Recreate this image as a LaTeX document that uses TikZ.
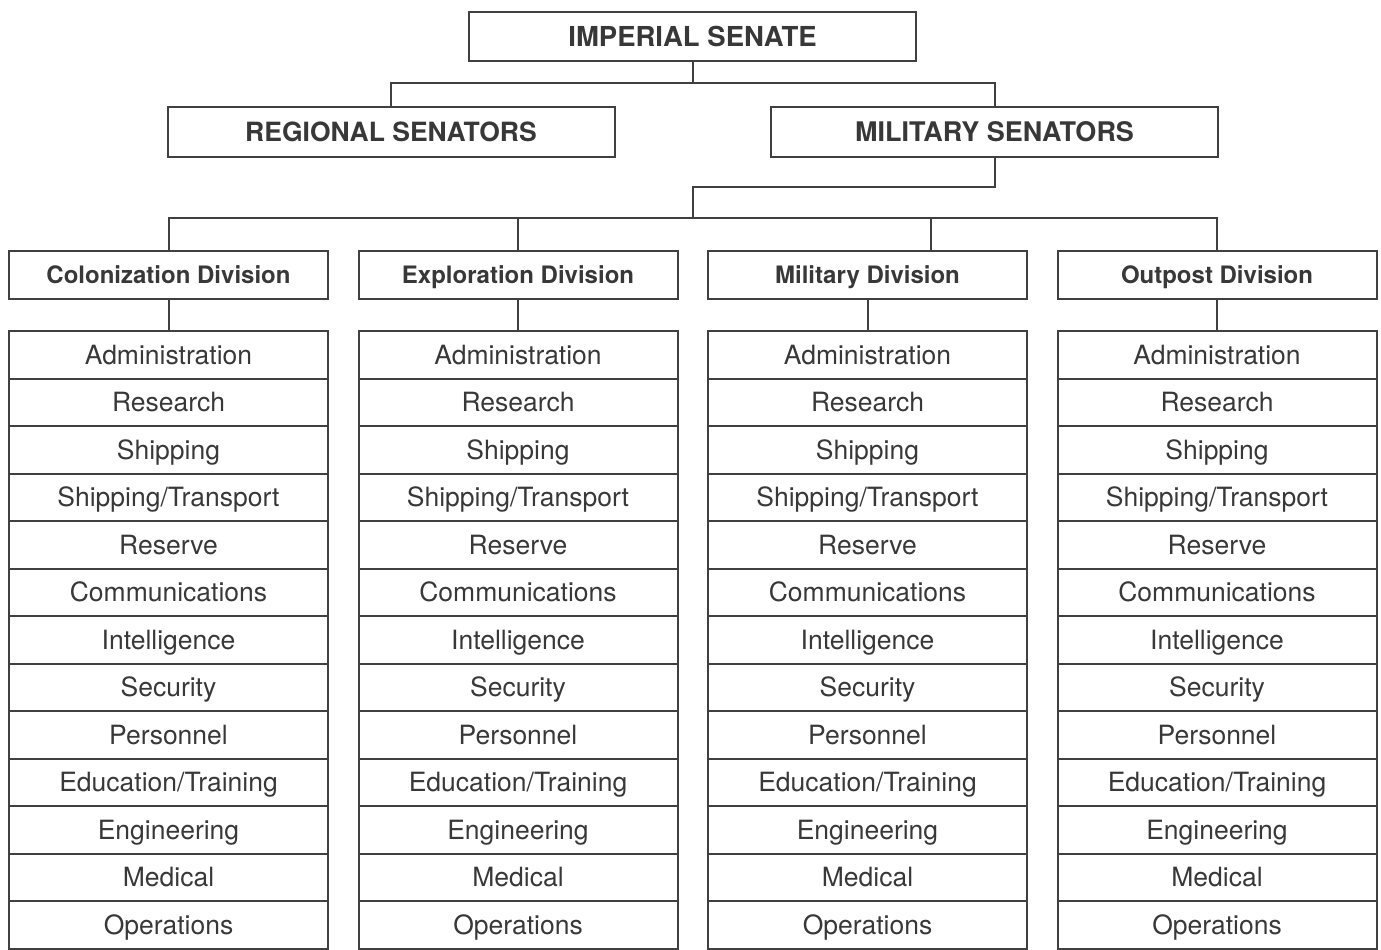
\documentclass[tikz,border=0pt]{standalone}
\usepackage{fontspec}
\setmainfont{TeX Gyre Heros}

\tikzset{
  box/.style={draw=black!75, line width=2pt, inner sep=0pt, text=black!78,
    minimum width=319pt, minimum height=47.5pt,
    text height=19pt, text depth=0pt,
    font=\fontsize{26.5}{30}\selectfont},
  senbox/.style={box, minimum width=447pt, minimum height=50pt,
    text height=19.5pt, font=\bfseries\fontsize{26.5}{30}\selectfont},
  divbox/.style={box, minimum height=48pt, text height=17.3pt,
    font=\bfseries\fontsize{24}{28}\selectfont},
  link/.style={draw=black!75, line width=2pt}
}

\begin{document}
\begin{tikzpicture}[x=1pt, y=-1pt]
  \useasboundingbox (0,0) rectangle (1381,950);

  % senate
  \node[senbox, minimum height=49pt, font=\bfseries\fontsize{27.5}{31}\selectfont]
    (senate) at (692.5,36.5) {IMPERIAL SENATE};
  \node[senbox] (regional) at (391,132)   {REGIONAL SENATORS};
  \node[senbox, font=\bfseries\fontsize{27}{31}\selectfont]
    (milsen) at (994.5,132) {MILITARY SENATORS};

  \coordinate (top) at (692.5,83);
  \draw[link] (senate) -- (top);
  \draw[link] (regional) |- (top) -| (milsen);

  % divisions and their units
  \foreach \dname [count=\i] in {Colonization Division, Exploration Division,
      Military Division, Outpost Division} {
    \pgfmathsetmacro\cx{168.5+349.5*(\i-1)}
    \node[divbox] (div\i) at (\cx,275) {\dname};
    \foreach \unit [count=\k] in {Administration, Research, Shipping,
        Shipping/Transport, Reserve, Communications, Intelligence, Security,
        Personnel, Education/Training, Engineering, Medical, Operations} {
      \node[box] (unit\i-\k) at (\cx,{331+47.5*(\k-0.5)}) {\unit};
    }
    \draw[link] (div\i) -- (unit\i-1);
  }

  % bus to the divisions
  \coordinate (jog) at (692.5,187);
  \coordinate (bus) at (692.5,218);
  \coordinate (tap) at (931,218);
  \draw[link] (milsen) |- (jog) -- (bus);
  \draw[link] (div1) |- (bus) -| (div4);
  \draw[link] (div2) -- (div2 |- bus);
  \draw[link] (tap) -- (tap |- div3.north);

\end{tikzpicture}
\end{document}
